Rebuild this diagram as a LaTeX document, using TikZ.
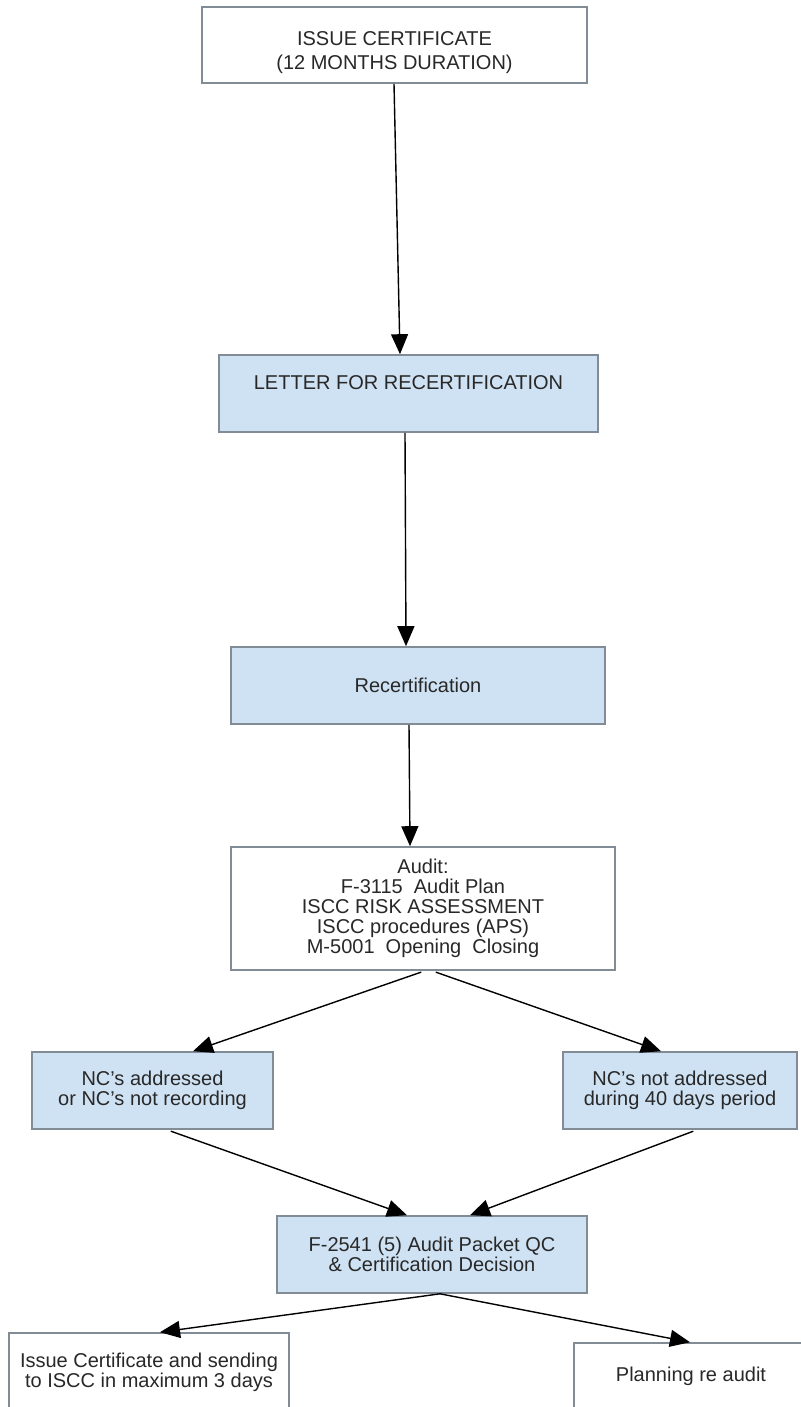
\documentclass[tikz,border=0pt]{standalone}
\usepackage{fontspec}
\setmainfont{Liberation Sans}
\usetikzlibrary{arrows.meta}
\definecolor{boxblue}{RGB}{207,226,243}
\definecolor{boxline}{RGB}{130,140,150}
\definecolor{boxtext}{RGB}{40,40,40}
\tikzstyle{whitebox}=[draw=boxline,line width=0.8pt,fill=white,text=boxtext,align=center,inner sep=0pt,font=\fontsize{10}{10}\selectfont]
\tikzstyle{bluebox}=[whitebox,fill=boxblue]
\tikzstyle{flowarrow}=[-{Triangle[length=10pt,width=8.5pt]},line width=0.7pt]

\begin{document}
\begin{tikzpicture}[x=0.5pt,y=-0.5pt]
\useasboundingbox (0,0) rectangle (800,1407);
% boxes, centres in pixels
\node[whitebox,minimum width=192.5pt,minimum height=38pt,
  label={[name=certtext,yshift=-4pt,align=center,text=boxtext,font=\fontsize{10}{10}\selectfont]center:ISSUE CERTIFICATE\\[2pt](12 MONTHS DURATION)}] (cert) at (394.5,45) {};
\node[bluebox,minimum width=189.5pt,minimum height=38.5pt,text depth=10.5pt] (letter) at (408.5,393.5) {LETTER FOR RECERTIFICATION};
\node[bluebox,minimum width=187pt,minimum height=38.5pt] (recert) at (418,685.5) {Recertification};
\node[whitebox,minimum width=192pt,minimum height=61.5pt] (audit) at (423,908.5) {Audit:\\F-3115\ \ Audit Plan\\ISCC RISK ASSESSMENT\\ISCC procedures (APS)\\M-5001\ \ Opening\ \ Closing};
\node[bluebox,minimum width=120.5pt,minimum height=38.5pt] (ncdone) at (152.5,1090.5) {NC's addressed\\or NC's not recording};
\node[bluebox,minimum width=117pt,minimum height=38.5pt] (ncopen) at (680,1090.5) {NC's not addressed\\during 40 days period};
\node[bluebox,minimum width=155pt,minimum height=38.5pt] (qc) at (432,1254.5) {F-2541 (5) Audit Packet QC\\\& Certification Decision};
\node[whitebox,minimum width=140pt,minimum height=39pt] (issue) at (149,1372) {Issue Certificate and sending\\to ISCC in maximum 3 days};
\node[whitebox,minimum width=117pt,minimum height=33pt] (plan) at (691,1376) {Planning re audit};

% arrows
\draw[flowarrow] ([xshift=-0.25pt]cert.south) -- ([xshift=-4.25pt]letter.north);
\draw[flowarrow] ([xshift=-1.75pt]letter.south) -- ([xshift=-6pt]recert.north);
\draw[flowarrow] ([xshift=-4.5pt]recert.south) -- ([xshift=-6.5pt]audit.north);
\draw[flowarrow,shorten <=2pt] ([xshift=1pt]audit.south) -- ([xshift=20.25pt]ncdone.north);
\draw[flowarrow,shorten <=2pt] ([xshift=4.5pt]audit.south) -- ([xshift=-9.5pt]ncopen.north);
\draw[flowarrow,shorten <=2pt] ([xshift=7.25pt]ncdone.south) -- ([xshift=-12.5pt]qc.north);
\draw[flowarrow,shorten <=2pt] ([xshift=8.5pt]ncopen.south) -- ([xshift=19pt]qc.north);
\draw[flowarrow] ([xshift=4pt]qc.south) -- ([xshift=5.5pt]issue.north);
\draw[flowarrow] ([xshift=4pt]qc.south) -- ([xshift=-0.5pt]plan.north);
\end{tikzpicture}
\end{document}
